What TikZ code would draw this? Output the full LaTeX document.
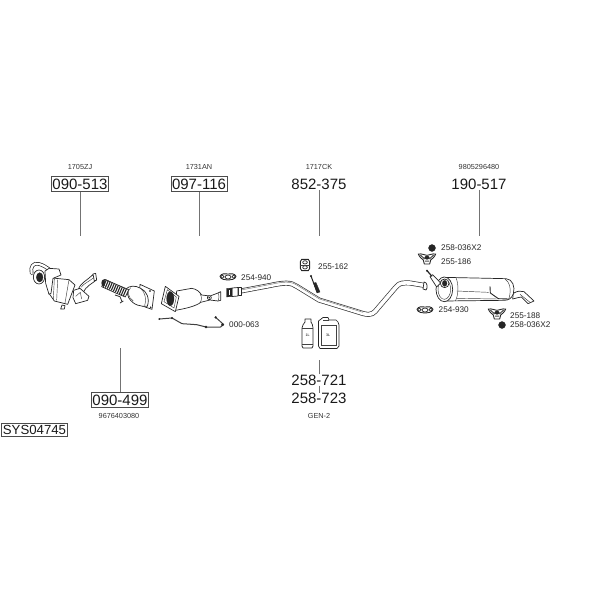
\documentclass[tikz,border=0pt]{standalone}
\usepackage{fontspec}
\setmainfont{Liberation Sans}
\usetikzlibrary{positioning}
\begin{document}
\begin{tikzpicture}[x=1pt,y=-1pt]
\tikzset{
    part/.style={line width=.7pt,draw=black!85,fill=white,line join=round},
    thin part/.style={line width=.45pt,draw=black!75},
    solid part/.style={fill=black!85,draw=black!85,line width=.3pt},
    leader/.style={line width=.6pt,draw=black!55},
    ref/.style={font=\fontsize{7.3}{8}\selectfont,text=black!80,inner sep=0pt},
    code/.style={font=\fontsize{15}{16}\selectfont,text=black!90,inner sep=0pt},
    codebox/.style={code,draw=black!70,line width=.5pt,inner xsep=1.2pt,inner ysep=2pt},
    label/.style={font=\fontsize{8.2}{9}\selectfont,text=black!85,inner sep=0pt,anchor=west},
    vol/.style={font=\fontsize{3.6}{4}\selectfont,text=black,inner sep=0pt}}
\def\gasket#1{
  \begin{scope}[shift={(#1)},scale=1/3]
    \draw[part,line width=.9pt] (-24,-2) .. controls (-20,-11) and (-8,-11) .. (0,-9) .. controls (8,-11) and (20,-11) .. (24,-2)
       .. controls (22,8) and (8,8) .. (0,9) .. controls (-8,8) and (-22,8) .. (-24,-2) -- cycle;
    \draw[part,line width=.7pt] (-17,-1) circle (5) (17,-1) circle (5) (0,0) ellipse (9 and 6);
  \end{scope}}
\def\hanger#1{
  \begin{scope}[shift={(#1)},scale=1/3]
    \draw[part,line width=.9pt] (-26,-12) .. controls (-14,-14) and (-8,-8) .. (0,-8) .. controls (8,-8) and (14,-14) .. (26,-12)
       .. controls (22,-2) and (16,2) .. (11,6) -- (8,18) -- (-8,18) -- (-11,6) .. controls (-16,2) and (-22,-2) .. (-26,-12) -- cycle;
    \draw[line width=1pt,black!70] (-20,-9) -- (-7,3) (20,-9) -- (7,3) (-6,9) -- (6,9);
    \draw[solid part] (0,-1) ellipse (7 and 5);
  \end{scope}}
\def\nut#1{\draw[solid part] (#1) circle (3.5);}
\def\pipepath{(238,291.5) -- (270,285.5) .. controls (284,282.5) and (291,282) .. (297,286.5) -- (319,300)
   -- (363,313.5) .. controls (372,316) and (374,313) .. (378,308) -- (396,287) .. controls (400,282) and (404,283) .. (410,283) -- (425,285.5)}

\useasboundingbox (0,0) rectangle (600,600);

% numbers
\node[ref] (name513) at (80,167) {1705ZJ};
\node[codebox] (box513) at (80,184) {090-513};
\node[ref] (name116) at (199,167) {1731AN};
\node[codebox] (box116) at (199,184) {097-116};
\node[ref] (name375) at (319,167) {1717CK};
\node[code] (box375) at (319,184) {852-375};
\node[ref] (name517) at (479,167) {9805296480};
\node[code] (box517) at (479,184) {190-517};
\node[codebox] (box499) at (120,400) {090-499};
\node[ref] (name499) at (119,416) {9676403080};
\node[codebox,font=\fontsize{13.2}{14}\selectfont] (sys) at (34.5,430) {SYS04745};
\node[code] (box721) at (319,380) {258-721};
\node[code] (box723) at (319,398.5) {258-723};
\node[ref] (gen) at (319,416) {GEN-2};

\coordinate (tip513) at (80,236);
\coordinate (tip116) at (199,236);
\coordinate (tip375) at (319,236);
\coordinate (tip517) at (479,236);
\coordinate (tip499) at (120,348);
\coordinate (tip721) at (319,360);
\draw[leader] (box513) -- (tip513);
\draw[leader] (box116) -- (tip116);
\draw[leader] (box375) -- (tip375);
\draw[leader] (box517) -- (tip517);
\draw[leader] (box499) -- (tip499);
\draw[leader] (box721) -- (tip721);
\draw[leader] (box721) -- (box723);

% small labels
\node[label] (lab940) at (241,278) {254-940};
\node[label] (lab162) at (318,267) {255-162};
\node[label] (lab063) at (229,325) {000-063};
\node[label] (lab036a) at (441,247.5) {258-036X2};
\node[label] (lab186) at (441,262) {255-186};
\node[label] (lab930) at (438.5,310) {254-930};
\node[label] (lab188) at (510,316) {255-188};
\node[label] (lab036b) at (510,324.5) {258-036X2};

% 090-513
\begin{scope}[shift={(25,255)},scale=1/3]
  \draw[line width=3.6pt,black!85,line cap=round] (20,55) .. controls (15,35) and (25,22) .. (42,27) .. controls (55,30) and (65,38) .. (78,47);
  \draw[line width=2.2pt,white,line cap=round] (20,55) .. controls (15,35) and (25,22) .. (42,27) .. controls (55,30) and (65,38) .. (78,47);
  \draw[part] (160,103) .. controls (168,82) and (185,78) .. (203,59) -- (213,76)
     .. controls (198,88) and (185,92) .. (175,112) -- cycle;
  \draw[thin part] (168,97) .. controls (178,84) and (192,80) .. (206,68);
  \draw[part] (204,57) -- (212,55) -- (215,75) -- (208,78) -- cycle;
  \draw[part] (72,68) -- (132,74) -- (150,90) -- (128,148) -- (88,138) -- (72,115) -- cycle;
  \draw[thin part] (88,72) -- (85,132) (98,74) -- (95,136) (132,74) -- (120,144);
  \draw[part] (60,48) -- (72,40) -- (102,42) -- (108,60) -- (84,70) -- (78,115) -- (72,118) -- (62,85) -- cycle;
  \draw[part] (146,106) -- (165,100) -- (192,124) -- (188,136) -- (152,146) -- (144,128) -- cycle;
  \draw[thin part] (152,124) -- (166,112) -- (170,132);
  \draw[part] (42,66) ellipse (17 and 21);
  \draw[solid part] (44,67) ellipse (10 and 14);
  \draw[part] (107,162) -- (111,150) -- (120,152) -- (118,162) -- cycle;
\end{scope}

% 090-499
\begin{scope}[shift={(100,275)},scale=1/3]
  \draw[part] (120,28) -- (163,48) -- (156,103) -- (138,97) -- (116,88) -- cycle;
  \draw[part] (78,42) .. controls (88,32) and (105,30) .. (122,40) .. controls (140,48) and (150,70) .. (142,94)
     .. controls (125,95) and (100,92) .. (86,68) -- cycle;
  \draw[thin part] (92,38) .. controls (80,48) and (84,68) .. (100,78);
  \draw[thin part] (122,40) .. controls (136,52) and (140,75) .. (134,92);
  \draw[part] (14,13) -- (86,44) -- (76,66) -- (45,53) -- (5,35) -- cycle;
  \foreach \i in {0,...,10} {
    \draw[line width=1.1pt,black!85] ({19+\i*6},{14+\i*2.8}) -- ({10+\i*6},{35+\i*2.8}); }
  \draw[solid part] (10,24) ellipse (5 and 10);
  \draw[line width=.8pt,black!80] (45,60) -- (60,65) -- (66,80) (60,84) -- (70,78);
  \draw[solid part] (150,48) circle (2) (152,97) circle (2);
\end{scope}

% 097-116
\begin{scope}[shift={(100,275)},scale=1/3]
  \draw[part] (230,48) -- (275,40) .. controls (290,42) and (298,50) .. (305,60) -- (330,63) -- (354,54)
     -- (362,50) -- (362,76) -- (354,78) -- (330,75) -- (302,82) .. controls (290,92) and (262,100) .. (226,106) -- cycle;
  \draw[thin part] (300,56) .. controls (306,66) and (306,74) .. (300,84) (354,54) .. controls (358,64) and (358,70) .. (354,78);
  \draw[part] (328,68) circle (6);
  \draw[solid part] (328,68) circle (2);
  \draw[part] (196,34) -- (237,64) -- (226,110) -- (184,86) -- cycle;
  \draw[thin part] (202,44) -- (229,66) -- (222,99) -- (192,80) -- cycle;
  \draw[solid part] (211,71) ellipse (11 and 21);
\end{scope}

% 000-063
\begin{scope}[shift={(100,275)},scale=1/3]
  \draw[line width=1pt,black!75,line join=round] (178,132) -- (216,129) -- (246,146) -- (290,149) -- (318,156) -- (362,156) -- (370,148) -- (356,135) -- (345,126);
  \draw[solid part] (178,132) circle (2.5) (216,129) circle (3) (318,156) circle (3.5) (347,127) circle (3) (368,149) circle (4);
\end{scope}

% 852-375
\draw[line width=5pt,black!80,line join=round] \pipepath;
\draw[line width=3.6pt,white,line join=round] \pipepath;
\draw[line width=.5pt,black!50,line join=round] (240,290.2) -- (270,284.5) .. controls (284,281.5) and (291,281) .. (297.5,285.5) -- (319.5,299) -- (363,312.3);
\draw[part] (238,287.5) -- (241,287.5) -- (241,295.5) -- (238,295.5) -- cycle;
\draw[part] (232,288) -- (238,287.5) -- (238,296) -- (232,296.5) -- cycle;
\draw[solid part] (226.5,288.5) -- (232,288) -- (232,296.5) -- (226.5,297) -- cycle;
\draw[white,line width=.6pt] (229,290) -- (229,295);
\draw[part] (424,282) .. controls (427.5,282) and (428,288) .. (426,290) -- (423,289) -- cycle;
% bracket
\draw[line width=1pt,black!85] (311,276) -- (317,292);
\draw[solid part] (313.5,283) -- (316,282.5) -- (320,292) -- (317,293) -- cycle;
\draw[solid part] (311,276) circle (1);

% 190-517
\begin{scope}[shift={(410,265)},scale=1/3]
  \draw[part] (310,85) .. controls (322,78) and (332,76) .. (342,80) -- (372,108) -- (354,116) -- (334,96) .. controls (328,96) and (318,100) .. (308,102) -- cycle;
  \draw[thin part] (330,88) -- (360,112);
  \draw[part] (100,37) -- (288,41) .. controls (308,42) and (316,66) .. (310,86) .. controls (305,100) and (296,106) .. (282,106) -- (102,108) -- cycle;
  \draw[thin part] (138,38) .. controls (146,56) and (146,90) .. (136,108) (285,42) .. controls (298,50) and (306,72) .. (296,104);
  \draw[line width=.9pt,black!85] (240,64) -- (241,84) -- (265,101) -- (296,102);
  \draw[thin part] (140,78) -- (236,82) (140,100) -- (262,102);
  \draw[part] (103,73) ellipse (25 and 37);
  \draw[thin part] (103,73) ellipse (19 and 30);
  \draw[part] (104,55) ellipse (13 and 13);
  \draw[solid part] (104,55) ellipse (7 and 9);
  \draw[part] (60,35) -- (68,29) -- (92,54) -- (80,66) -- cycle;
  \draw[line width=1.2pt,black!85] (51,17) -- (66,34);
  \draw[solid part] (51,17) circle (2.5);
\end{scope}

% 258-721 and 258-723
\draw[part] (302,328) .. controls (302,325) and (304,324) .. (305,322) -- (305,319) -- (311,319) -- (311,322) .. controls (312,324) and (313,325) .. (313,328) -- (313,346) -- (312,348) -- (303,348) -- (302,346) -- cycle;
\draw[thin part] (302,328) -- (313,328) (302,344) -- (313,344);
\node[vol] (vol1) at (307.5,335) {1L};
\draw[part] (318.5,321) -- (323,317.5) -- (328,317.5) -- (329,320) -- (336,320) -- (338,322) -- (339,325) -- (339,346) -- (337,348.5) -- (320,348.5) -- (318.5,346) -- cycle;
\draw[thin part] (321,325) -- (336,325) -- (336,345) -- (321,345) -- cycle;
\draw[thin part] (323,320) -- (329,320);
\node[vol] (vol3) at (328,335) {3L};

% clamps
\gasket{228,277}
\gasket{425,310}
\hanger{427,258}
\hanger{497,313}
\nut{432,248}
\nut{502,325}
\begin{scope}[shift={(305,265)},scale=1/3]
  \draw[part,line width=.9pt] (-10,-17) -- (10,-17) -- (14,-10) -- (14,10) -- (10,17) -- (-10,17) -- (-14,10) -- (-14,-10) -- cycle;
  \draw[part] (0,-8) ellipse (7 and 5) (0,7) ellipse (7 and 5);
  \draw[thin part] (-14,0) -- (14,0);
\end{scope}
\end{tikzpicture}
\end{document}
